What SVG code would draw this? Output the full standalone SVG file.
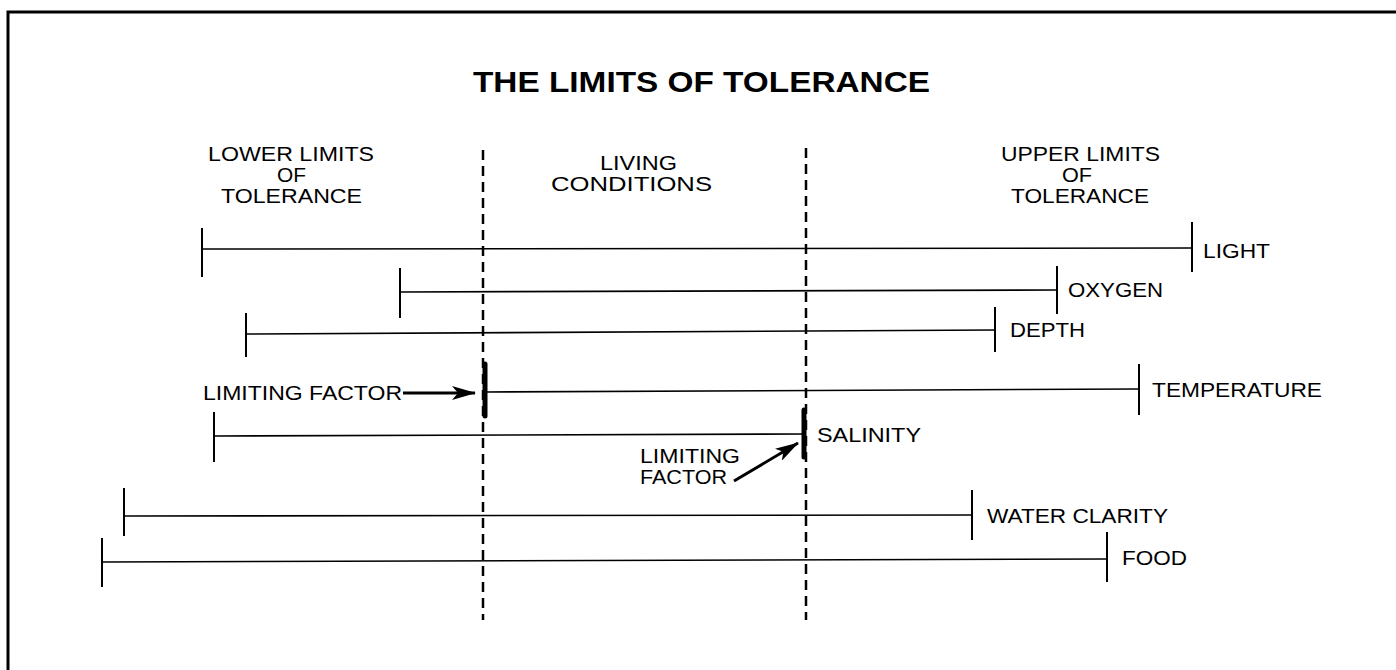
<svg xmlns="http://www.w3.org/2000/svg" width="1396" height="670" viewBox="0 0 1396 670">
  <style>
    text { font-family: "Liberation Sans", Arial, Helvetica, sans-serif; font-size: 20px; fill: #000; }
    .title { font-size: 30px; font-weight: bold; }
    .bar { stroke: #000; stroke-width: 1.6; fill: none; }
    .tick { stroke: #000; stroke-width: 2; fill: none; }
    .limit { stroke: #000; stroke-width: 5; fill: none; stroke-linecap: round; }
    .zone { stroke: #000; stroke-width: 2.5; stroke-dasharray: 10 6; fill: none; }
    .frame { stroke: #000; stroke-width: 3; fill: none; }
    .arrow { stroke: #000; stroke-width: 3; fill: none; }
  </style>
  <defs>
    <marker id="head" viewBox="0 0 24 14" refX="23" refY="7" markerWidth="24" markerHeight="14" markerUnits="userSpaceOnUse" orient="auto">
      <path d="M0,0 L24,7 L0,14 L6,7 Z" fill="#000"/>
    </marker>
  </defs>

  <rect width="1396" height="670" fill="#fff"/>

  <!-- border: top and left edges -->
  <path class="frame" d="M8,670 L8,12 L1396,12"/>

  <g id="title">
    <text class="title" x="473" y="92" textLength="457" lengthAdjust="spacingAndGlyphs">THE LIMITS OF TOLERANCE</text>
  </g>

  <!-- zone headings -->
  <g id="lower-zone">
    <text x="208" y="161" textLength="166" lengthAdjust="spacingAndGlyphs">LOWER LIMITS</text>
    <text x="277" y="182" textLength="29" lengthAdjust="spacingAndGlyphs">OF</text>
    <text x="221" y="203" textLength="141" lengthAdjust="spacingAndGlyphs">TOLERANCE</text>
  </g>
  <g id="living-zone">
    <text x="600" y="170" textLength="77" lengthAdjust="spacingAndGlyphs">LIVING</text>
    <text x="551" y="191" textLength="161" lengthAdjust="spacingAndGlyphs">CONDITIONS</text>
  </g>
  <g id="upper-zone">
    <text x="1001" y="161" textLength="159" lengthAdjust="spacingAndGlyphs">UPPER LIMITS</text>
    <text x="1062" y="182" textLength="30" lengthAdjust="spacingAndGlyphs">OF</text>
    <text x="1011" y="203" textLength="138" lengthAdjust="spacingAndGlyphs">TOLERANCE</text>
  </g>

  <!-- boundaries of the living range -->
  <g id="boundaries">
    <line class="zone" x1="483" y1="150" x2="483" y2="620"/>
    <line class="zone" x1="806" y1="148" x2="806" y2="620"/>
  </g>

  <!-- tolerance ranges for each factor -->
  <g id="light">
    <line class="bar" x1="202" y1="249" x2="1192" y2="248"/>
    <line class="tick" x1="202" y1="228" x2="202" y2="277"/>
    <line class="tick" x1="1192" y1="222" x2="1192" y2="272"/>
    <text x="1203" y="258" textLength="67" lengthAdjust="spacingAndGlyphs">LIGHT</text>
  </g>
  <g id="oxygen">
    <line class="bar" x1="400" y1="292" x2="1057" y2="290"/>
    <line class="tick" x1="400" y1="268" x2="400" y2="318"/>
    <line class="tick" x1="1057" y1="266" x2="1057" y2="314"/>
    <text x="1068" y="297" textLength="95" lengthAdjust="spacingAndGlyphs">OXYGEN</text>
  </g>
  <g id="depth">
    <line class="bar" x1="246" y1="334" x2="995" y2="330"/>
    <line class="tick" x1="246" y1="313" x2="246" y2="357"/>
    <line class="tick" x1="995" y1="307" x2="995" y2="352"/>
    <text x="1010" y="337" textLength="75" lengthAdjust="spacingAndGlyphs">DEPTH</text>
  </g>
  <g id="temperature">
    <line class="bar" x1="485" y1="392" x2="1139" y2="389"/>
    <line class="limit" x1="485" y1="364" x2="485" y2="416"/>
    <line class="tick" x1="1139" y1="364" x2="1139" y2="415"/>
    <text x="1152" y="397" textLength="170" lengthAdjust="spacingAndGlyphs">TEMPERATURE</text>
  </g>
  <g id="salinity">
    <line class="bar" x1="214" y1="436" x2="804" y2="434"/>
    <line class="tick" x1="214" y1="412" x2="214" y2="462"/>
    <line class="limit" x1="804" y1="410" x2="804" y2="457"/>
    <text x="817" y="442" textLength="104" lengthAdjust="spacingAndGlyphs">SALINITY</text>
  </g>
  <g id="water-clarity">
    <line class="bar" x1="124" y1="516" x2="972" y2="515"/>
    <line class="tick" x1="124" y1="488" x2="124" y2="536"/>
    <line class="tick" x1="972" y1="490" x2="972" y2="540"/>
    <text x="987" y="523" textLength="181" lengthAdjust="spacingAndGlyphs">WATER CLARITY</text>
  </g>
  <g id="food">
    <line class="bar" x1="102" y1="562" x2="1107" y2="559"/>
    <line class="tick" x1="102" y1="538" x2="102" y2="587"/>
    <line class="tick" x1="1107" y1="532" x2="1107" y2="582"/>
    <text x="1122" y="565" textLength="65" lengthAdjust="spacingAndGlyphs">FOOD</text>
  </g>

  <!-- limiting factor callouts -->
  <g id="limiting-factor-temperature">
    <text x="203" y="400" textLength="199" lengthAdjust="spacingAndGlyphs">LIMITING FACTOR</text>
  </g>
  <g id="limiting-factor-salinity">
    <text x="640" y="463" textLength="100" lengthAdjust="spacingAndGlyphs">LIMITING</text>
    <text x="640" y="484" textLength="87" lengthAdjust="spacingAndGlyphs">FACTOR</text>
  </g>

  <g id="connectors">
    <line class="arrow" x1="403" y1="393" x2="475" y2="393" marker-end="url(#head)"/>
    <line class="arrow" x1="734" y1="481" x2="798" y2="443" marker-end="url(#head)"/>
  </g>
</svg>
